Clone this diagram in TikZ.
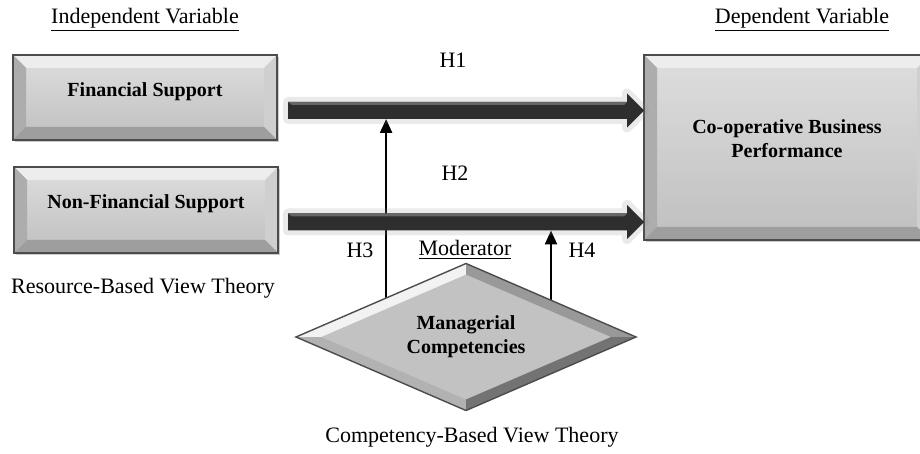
\documentclass[tikz,border=0pt]{standalone}
\usepackage{fontspec}
\setmainfont{Liberation Serif}
\usetikzlibrary{positioning,calc,shapes.geometric,shadows,arrows.meta}

\tikzset{
  varbox/.style={rectangle, draw=black!70, line width=0.7pt, outer sep=0pt,
    top color=black!13, bottom color=black!25, align=center,
    font=\bfseries, text height=8pt, text depth=9pt,
    drop shadow={shadow xshift=1pt, shadow yshift=-1.2pt, opacity=.35, fill=black!60}},
  bevtop/.style={fill=black!7},
  bevleft/.style={fill=black!32},
  bevright/.style={fill=black!19},
  bevbot/.style={fill=black!38},
  boxline/.style={draw=black!70, line width=0.7pt},
  arrowbody/.style={fill=black!82},
  arrowtop/.style={fill=black!60},
  arrowglow/.style={draw=black!45, opacity=.18, line width=5pt, line join=round},
  modline/.style={line width=1.2pt, -{Triangle[length=7pt,width=6pt]}},
  moderator/.style={diamond, outer sep=0pt, inner sep=0pt, aspect=2.3,
    minimum width=170pt, minimum height=73.5pt, fill=black!24, align=center,
    font=\bfseries},
}

\newcommand\bevelbox[1]{%
  \fill[bevtop] (#1.north west) -- (#1.north east) -- ($(#1.north east)+(-13,13)$) -- ($(#1.north west)+(13,13)$) -- cycle;
  \fill[bevleft] (#1.north west) -- ($(#1.north west)+(13,13)$) -- ($(#1.south west)+(13,-13)$) -- (#1.south west) -- cycle;
  \fill[bevright] (#1.north east) -- ($(#1.north east)+(-13,13)$) -- ($(#1.south east)+(-13,-13)$) -- (#1.south east) -- cycle;
  \fill[bevbot] (#1.south west) -- ($(#1.south west)+(13,-13)$) -- ($(#1.south east)+(-13,-13)$) -- (#1.south east) -- cycle;
  \draw[boxline] (#1.north west) rectangle (#1.south east);
}

% start point, tip point
\newcommand\fatarrow[2]{%
  \draw[arrowglow] ($(#1)+(0,-8.5)$) -- ($(#2)+(-17,-8.5)$) -- ($(#2)+(-17,-17)$) -- (#2) -- ($(#2)+(-17,17)$) -- ($(#2)+(-17,8.5)$) -- ($(#1)+(0,8.5)$) -- cycle;
  \fill[arrowbody] ($(#1)+(0,-8.5)$) -- ($(#2)+(-17,-8.5)$) -- ($(#2)+(-17,-17)$) -- (#2) -- ($(#2)+(-17,17)$) -- ($(#2)+(-17,8.5)$) -- ($(#1)+(0,8.5)$) -- cycle;
  \fill[arrowtop] ($(#1)+(0,-8.5)$) -- ($(#2)+(-17,-8.5)$) -- ($(#2)+(-20,-5.5)$) -- ($(#1)+(4,-5.5)$) -- cycle;
}

\begin{document}
\begin{tikzpicture}[x=0.5pt,y=-0.5pt,font=\fontsize{11pt}{13.5pt}\selectfont]

    \useasboundingbox (0,0) rectangle (920,454);

    % variables
    \node[varbox, minimum width=132pt, minimum height=42.5pt] (fs) at (145,97.5) {Financial Support};
    \node[varbox, minimum width=132pt, minimum height=43pt] (nfs) at (146,210) {Non-Financial Support};
    \node[varbox, minimum width=143pt, minimum height=92.5pt] (cbp) at (787,147.5) {};

    \foreach \b in {fs,nfs,cbp}
    \bevelbox{\b};

    \node[font=\bfseries, align=center] (cbpt) at (787,138.5) {Co-operative Business\\Performance};

    \node (iv) at (145,20) {\underline{Independent Variable}};
    \node (dv) at (802,20) {\underline{Dependent Variable}};
    \node (rbv) at (143,288) {Resource-Based View Theory};

    % main paths
    \coordinate (a1s) at ($(fs.east)+(11,13)$);
    \coordinate (a1e) at (a1s -| cbp.west);
    \coordinate (a2s) at ($(nfs.east)+(10,12)$);
    \coordinate (a2e) at (a2s -| cbp.west);
    \coordinate (a1b) at ($(a1s)+(0,8.5)$);
    \coordinate (a2b) at ($(a2s)+(0,8.5)$);

    % moderator
    \node[moderator] (mc) at (466,337) {Managerial\\Competencies};
    \coordinate (p3) at ($(mc.west)!0.53!(mc.north)$);
    \coordinate (p4) at ($(mc.north)!0.5!(mc.east)$);

    \draw[modline] (p3) -- (p3 |- a1b);
    \draw[modline] (p4) -- (p4 |- a2b);

    \fatarrow{a1s}{a1e}
    \fatarrow{a2s}{a2e}

    % bevel of the diamond
    \coordinate (mcN) at ($(mc.north)+(0,11)$);
    \coordinate (mcS) at ($(mc.south)+(0,-11)$);
    \coordinate (mcW) at ($(mc.west)+(25,0)$);
    \coordinate (mcE) at ($(mc.east)+(-25,0)$);
    \fill[black!5] (mc.west) -- (mc.north) -- (mcN) -- (mcW) -- cycle;
    \fill[black!40] (mc.north) -- (mc.east) -- (mcE) -- (mcN) -- cycle;
    \fill[black!30] (mc.west) -- (mc.south) -- (mcS) -- (mcW) -- cycle;
    \fill[black!55] (mc.south) -- (mc.east) -- (mcE) -- (mcS) -- cycle;
    \draw[boxline] (mc.west) -- (mc.north) -- (mc.east) -- (mc.south) -- cycle;

    \node (h1) at (453,60) {H1};
    \node (h2) at (455,173) {H2};
    \node (h3) at (360,250) {H3};
    \node (h4) at (582,250) {H4};
    \node (mod) at (465,250) {\underline{Moderator}};
    \node (cbv) at (472,437) {Competency-Based View Theory};

  \end{tikzpicture}
\end{document}
